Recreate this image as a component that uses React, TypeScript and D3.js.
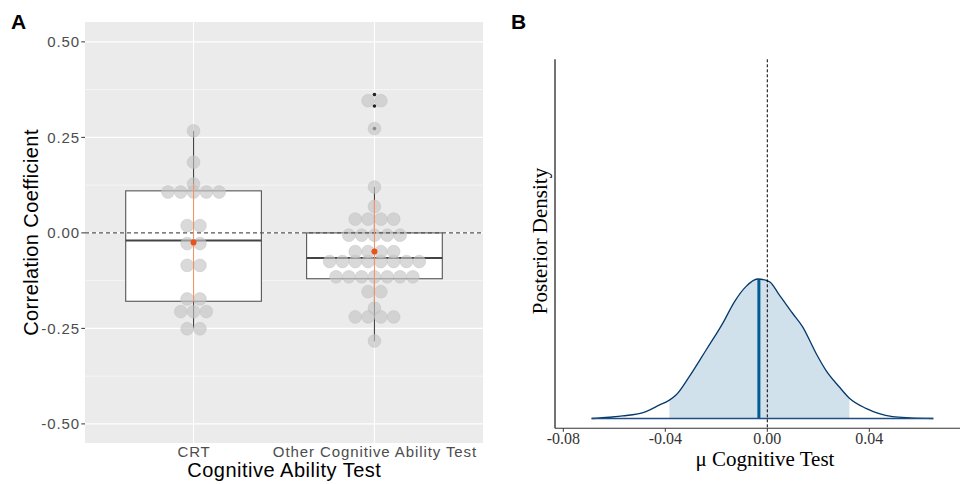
import React from 'react';
import * as d3 from 'd3';

// Panel A: correlation coefficients per cognitive test
const categories = ['CRT', 'Other Cognitive Ability Test'];
const whiskerLow = [-0.25, -0.284];
const boxQ1 = [-0.179, -0.12];
const boxMedian = [-0.02, -0.066];
const boxQ3 = [0.11, 0.0];
const whiskerHigh = [0.267, 0.12];
const outliers = [[], [0.362, 0.332, 0.273]];
const groupMeans = [-0.025, -0.049];
const meanLow = [-0.18, -0.182];
const meanHigh = [0.128, 0.086];

const crtDots = [
  0.267, 0.185, 0.128,
  0.107, 0.107, 0.107, 0.107, 0.107,
  0.019, 0.019, -0.028, -0.028, -0.085, -0.085,
  -0.173, -0.173, -0.206, -0.206, -0.206, -0.251, -0.251,
];
const otherDots = [
  0.346, 0.346, 0.273, 0.12, 0.069,
  0.036, 0.036, 0.036, 0.036,
  -0.006, -0.006, -0.006, -0.006, -0.006,
  -0.049, -0.049, -0.049, -0.049,
  -0.075, -0.075, -0.075, -0.075, -0.075, -0.075, -0.075, -0.075,
  -0.115, -0.115, -0.115, -0.115, -0.115, -0.115, -0.115,
  -0.154, -0.154, -0.197,
  -0.22, -0.22, -0.22, -0.22, -0.283,
];
const dotGroups = [crtDots, otherDots];
const yTicksA = [-0.5, -0.25, 0, 0.25, 0.5];
const yMinorA = [-0.375, -0.125, 0.125, 0.375];

// Panel B: posterior density of mu
const densX = [
  -0.0689, -0.062, -0.0567, -0.0476, -0.0424, -0.0384, -0.0358, -0.0306, -0.024,
  -0.0175, -0.0129, -0.0084, -0.0038, 0.0008, 0.0047, 0.0099, 0.0138, 0.0191,
  0.023, 0.0282, 0.0322, 0.0387, 0.0491, 0.056, 0.0651,
];
const densY = [
  0, 0.2, 0.4, 1.1, 2.1, 2.9, 3.7, 6.6, 10.8, 15.0, 18.4, 20.8, 22.0, 21.6, 19.5,
  16.6, 14.5, 10.3, 7.6, 5.0, 3.2, 1.6, 0.3, 0.1, 0,
];
const ciLow = -0.0384;
const ciHigh = 0.0322;
const posteriorMedian = -0.0033;
const xTicksB = [-0.08, -0.04, 0, 0.04];

const sans = 'Liberation Sans, Arial, Helvetica, sans-serif';
const serif = 'Liberation Serif, Times New Roman, serif';
const fmt = (v: number) => d3.format('.2f')(v).replace('\u2212', '-');

const PanelA: React.FC = () => {
  const left = 85, right = 483, top = 22, bottom = 443;
  const y = d3.scaleLinear().domain([-0.55, 0.552]).range([bottom, top]);
  const x = d3.scalePoint<string>().domain(categories).range([left, right]).padding(0.6);
  const boxW = x.step() * 0.75;
  const spacing = 12.8;
  const r = 6.4;

  return (
    <g>
      <rect x={left} y={top} width={right - left} height={bottom - top} fill="#EBEBEB" />
      {yMinorA.map((t) => (
        <line key={'mn' + t} x1={left} x2={right} y1={y(t)} y2={y(t)} stroke="#fff" strokeWidth={0.55} />
      ))}
      {yTicksA.map((t) => (
        <line key={'mj' + t} x1={left} x2={right} y1={y(t)} y2={y(t)} stroke="#fff" strokeWidth={1.1} />
      ))}
      {categories.map((c) => (
        <line key={'v' + c} x1={x(c)} x2={x(c)} y1={top} y2={bottom} stroke="#fff" strokeWidth={1.1} />
      ))}

      {categories.map((c, i) => {
        const cx = x(c)!;
        return (
          <g key={'box' + c}>
            <line x1={cx} x2={cx} y1={y(whiskerHigh[i])} y2={y(boxQ3[i])} stroke="#444" strokeWidth={1.1} />
            <line x1={cx} x2={cx} y1={y(boxQ1[i])} y2={y(whiskerLow[i])} stroke="#444" strokeWidth={1.1} />
            <rect
              x={cx - boxW / 2}
              y={y(boxQ3[i])}
              width={boxW}
              height={y(boxQ1[i]) - y(boxQ3[i])}
              fill="#fff"
              stroke="#555"
              strokeWidth={1.1}
            />
            <line x1={cx - boxW / 2} x2={cx + boxW / 2} y1={y(boxMedian[i])} y2={y(boxMedian[i])} stroke="#444" strokeWidth={2} />
            {outliers[i].map((o, k) => (
              <circle key={k} cx={cx} cy={y(o)} r={1.8} fill="#222" />
            ))}
          </g>
        );
      })}

      {dotGroups.map((vals, i) => {
        const cx = x(categories[i])!;
        const bins = Array.from(d3.group(vals, (v) => v), ([v, arr]) => ({ v, n: arr.length }));
        return (
          <g key={'dots' + i}>
            {bins.flatMap((b) =>
              d3.range(b.n).map((k) => (
                <circle
                  key={b.v + '-' + k}
                  cx={cx + (k - (b.n - 1) / 2) * spacing}
                  cy={y(b.v)}
                  r={r}
                  fill="#c4c4c4"
                  fillOpacity={0.65}
                  stroke="#bdbdbd"
                  strokeOpacity={0.7}
                  strokeWidth={0.6}
                />
              ))
            )}
          </g>
        );
      })}

      <line x1={left} x2={right} y1={y(0)} y2={y(0)} stroke="#555" strokeWidth={1.1} strokeDasharray="4,3" />

      {categories.map((c, i) => {
        const cx = x(c)!;
        return (
          <g key={'mean' + c}>
            <line x1={cx} x2={cx} y1={y(meanHigh[i])} y2={y(meanLow[i])} stroke="#F2936A" strokeWidth={1.1} />
            <circle cx={cx} cy={y(groupMeans[i])} r={3} fill="#E8521C" />
          </g>
        );
      })}

      {yTicksA.map((t) => (
        <g key={'yt' + t}>
          <line x1={left - 3.7} x2={left} y1={y(t)} y2={y(t)} stroke="#333" strokeWidth={1} />
          <text
            x={left - 5}
            y={y(t)}
            dy="0.36em"
            textAnchor="end"
            fontFamily={sans}
            fontSize={15}
            letterSpacing={0.9}
            fill="#4D4D4D"
          >
            {fmt(t)}
          </text>
        </g>
      ))}
      {categories.map((c) => (
        <text
          key={'xt' + c}
          x={x(c)! + 0.5}
          y={457}
          textAnchor="middle"
          fontFamily={sans}
          fontSize={15}
          letterSpacing={0.9}
          fill="#4D4D4D"
        >
          {c}
        </text>
      ))}
      <text
        x={(left + right) / 2 + 0.3}
        y={477}
        textAnchor="middle"
        fontFamily={sans}
        fontSize={20}
        letterSpacing={0.5}
        fill="#000"
      >
        Cognitive Ability Test
      </text>
      <text
        transform={`translate(38,${(top + bottom) / 2}) rotate(-90)`}
        textAnchor="middle"
        fontFamily={sans}
        fontSize={20}
        letterSpacing={0.4}
        fill="#000"
      >
        Correlation Coefficient
      </text>
      <text x={11} y={29} fontFamily={sans} fontSize={21} fontWeight="bold">A</text>
    </g>
  );
};

const PanelB: React.FC = () => {
  const left = 555, right = 960, axisY = 428.3, axisTop = 59.3;
  const x = d3.scaleLinear().domain([-0.08, 0.04]).range([563.3, 869.3]);
  const y = d3.scaleLinear().domain([0, 22]).range([418.5, 279]);
  const dens = d3.scaleLinear().domain(densX).range(densY);
  const pts = densX.map((d, i) => [d, densY[i]] as [number, number]);
  const inner = pts.filter((p) => p[0] >= ciLow && p[0] <= ciHigh);

  const area = d3
    .area<[number, number]>()
    .x((d) => x(d[0]))
    .y0(y(0))
    .y1((d) => y(d[1]))
    .curve(d3.curveMonotoneX);
  const line = d3
    .line<[number, number]>()
    .x((d) => x(d[0]))
    .y((d) => y(d[1]))
    .curve(d3.curveMonotoneX);

  return (
    <g>
      <path d={area(inner) ?? ''} fill="#D1E1EC" />
      <line
        x1={x(posteriorMedian)}
        x2={x(posteriorMedian)}
        y1={y(0)}
        y2={y(dens(posteriorMedian))}
        stroke="#005B96"
        strokeWidth={3}
      />
      <path d={line(pts) ?? ''} fill="none" stroke="#03396C" strokeWidth={1.3} />
      <line x1={x(densX[0])} x2={x(densX[densX.length - 1])} y1={y(0)} y2={y(0)} stroke="#1F4E80" strokeWidth={1.3} />
      <line x1={x(0)} x2={x(0)} y1={axisTop} y2={axisY} stroke="#000" strokeWidth={1} strokeDasharray="3,2" />

      <line x1={left} x2={left} y1={axisTop} y2={axisY} stroke="#000" strokeWidth={1.1} />
      <line x1={left} x2={right} y1={axisY} y2={axisY} stroke="#333" strokeWidth={1.1} />
      {xTicksB.map((t) => (
        <g key={'xb' + t}>
          <line x1={x(t)} x2={x(t)} y1={axisY} y2={axisY + 3.5} stroke="#333" strokeWidth={1} />
          <text x={x(t)} y={444} textAnchor="middle" fontFamily={serif} fontSize={16} fill="#333">
            {fmt(t)}
          </text>
        </g>
      ))}
      <text x={765} y={466} textAnchor="middle" fontFamily={serif} fontSize={21} fill="#000">
        μ Cognitive Test
      </text>
      <text
        transform={`translate(547,241) rotate(-90)`}
        textAnchor="middle"
        fontFamily={serif}
        fontSize={21}
        fill="#000"
      >
        Posterior Density
      </text>
      <text x={511} y={29} fontFamily={sans} fontSize={21} fontWeight="bold">B</text>
    </g>
  );
};

export default function App() {
  return (
    <svg
      width={960}
      height={484}
      style={{ position: 'absolute', left: 0, top: 0, background: '#fff', display: 'block' }}
    >
      <rect width={960} height={484} fill="#fff" />
      <PanelA />
      <PanelB />
    </svg>
  );
}
